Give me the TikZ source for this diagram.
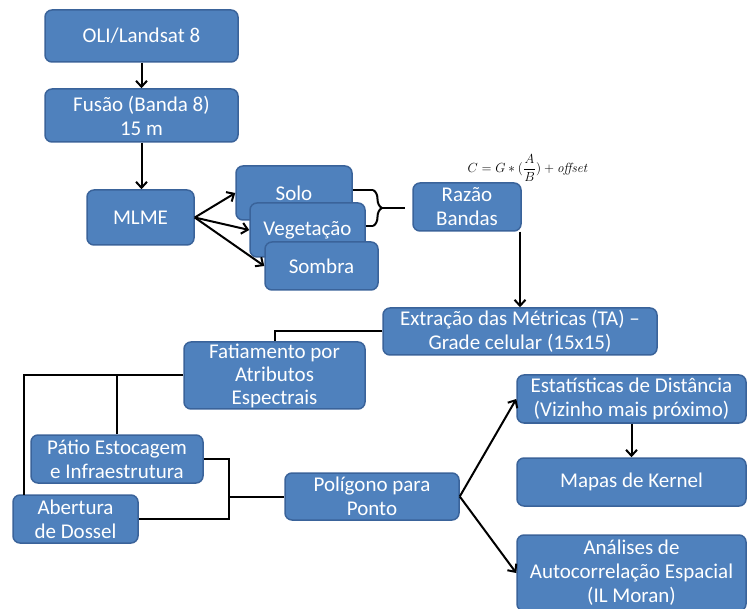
\documentclass[tikz,border=0pt]{standalone}
\usepackage[no-math]{fontspec}
\setmainfont{Carlito}
\usetikzlibrary{arrows,arrows.meta,positioning,decorations.pathreplacing}
\definecolor{boxfill}{HTML}{4F81BD}
\definecolor{boxline}{HTML}{3A639A}
\tikzstyle{block} = [rectangle, rounded corners=7pt, draw=boxline, line width=1.5pt, fill=boxfill, text=white, align=center, inner sep=0pt, font=\fontsize{21}{24}\selectfont]
\tikzstyle{link} = [draw, line width=2pt]

\begin{document}
\begin{tikzpicture}[x=1pt, y=-1pt, >={Straight Barb[length=6pt,width=11pt]}]
\useasboundingbox (0,0) rectangle (747,609);
% first column
\node (oli) [block, minimum width=193pt, minimum height=52pt] at (141.5,36) {OLI/Landsat 8};
\node (fus) [block, minimum width=193pt, minimum height=53pt] at (141.5,115.5) {Fus\~ao (Banda 8)\\15 m};
\node (mlme) [block, minimum width=107pt, minimum height=55pt] at (140.5,217.5) {MLME};
\node (solo) [block, minimum width=116pt, minimum height=54pt] at (294,193) {Solo};
\node (veg) [block, minimum width=115pt, minimum height=54pt] at (307.5,230) {Vegeta\c{c}\~ao};
\node (somb) [block, minimum width=113pt, minimum height=48pt] at (321.5,266) {Sombra};
\node (raz) [block, minimum width=108pt, minimum height=48pt] at (467,207) {Raz\~ao\\Bandas};
\node (eq) [scale=1.1] at (528,168) {\large $\displaystyle C = G*(\frac{A}{B}) + \mathit{offset}$};
\node (extr) [block, minimum width=274pt, minimum height=47pt] at (520,331.5) {Extra\c{c}\~ao das M\'etricas (TA) --\\Grade celular (15x15)};
% classes
\node (fat) [block, minimum width=181pt, minimum height=67pt, font=\fontsize{21}{23}\selectfont] at (274.5,375.5) {Fatiamento por\\Atributos\\Espectrais};
\node (pat) [block, minimum width=172pt, minimum height=48pt] at (117,459) {P\'atio Estocagem\\e Infraestrutura};
\node (abe) [block, minimum width=125pt, minimum height=48pt] at (75.5,519) {Abertura\\de Dossel};
\node (pol) [block, minimum width=174pt, minimum height=47pt] at (372,496.5) {Pol\'igono para\\Ponto};
% analyses
\node (est) [block, minimum width=229pt, minimum height=48pt] at (631.5,399) {Estat\'isticas de Dist\^ancia\\(Vizinho mais pr\'oximo)};
\node (map) [block, minimum width=229pt, minimum height=48pt] at (631.5,482) {Mapas de Kernel};
\node (ana) [block, minimum width=229pt, minimum height=76pt] at (631.5,573) {An\'alises de\\Autocorrela\c{c}\~ao Espacial\\(IL Moran)};

\draw [link, ->] (oli) -- (fus);
\draw [link, ->] (fus.south) -- (fus.south |- mlme.north);
\draw [link, ->] (mlme.east) -- (solo.west);
\draw [link, ->] (mlme.east) -- (veg.west);
\draw [link, ->] (mlme.east) -- (somb.west);
% brace to the ratio
\coordinate (bt) at (373,190);
\coordinate (bb) at (373,226);
\coordinate (bend) at (405,208);
\draw [link] (solo.east |- bt) -- (bt);
\draw [link] (veg.east |- bb) -- (bb);
\draw [link, decorate, decoration={brace, amplitude=9pt}] (bt) -- (bb);
\draw [link] (382,208) -- (bend);
\draw [link, ->] (extr.north |- raz.south) -- (extr.north);
\draw [link] (extr.west) -| (fat.north);
\coordinate (lft) at (24,495);
\draw [link] (fat.west) -| (lft);
\draw [link] (pat.north) -- (pat.north |- fat.west);
\coordinate (jn) at (229,496.5);
\draw [link] (pat.east) -| (jn |- abe.east) -- (abe.east);
\draw [link] (jn) -- (pol.west);
\draw [link, ->] (pol.east) -- (est.west);
\draw [link, ->] (pol.east) -- (ana.west);
\draw [link, ->] (est) -- (map);
\end{tikzpicture}
\end{document}
